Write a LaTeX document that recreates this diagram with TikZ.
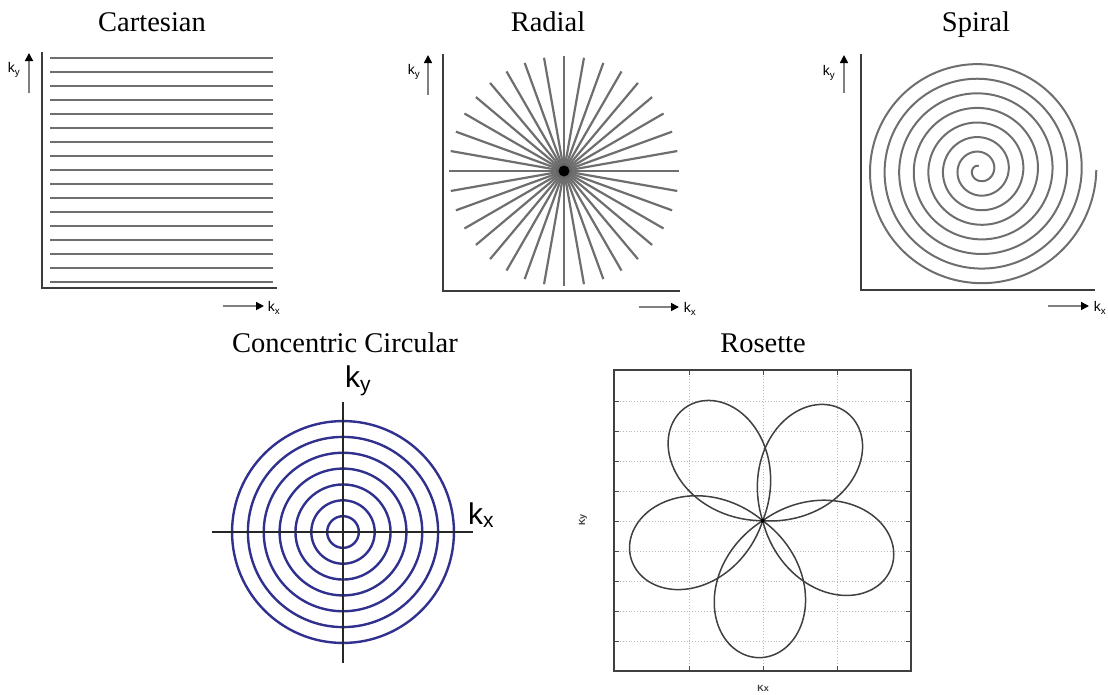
\documentclass[tikz,border=0pt]{standalone}
\usepackage{fontspec}
\setmainfont{Liberation Serif}
\setsansfont{Liberation Sans}
\usetikzlibrary{arrows.meta}
\definecolor{trajgray}{HTML}{6E6E6E}
\definecolor{axisgray}{HTML}{3C3C3C}
\definecolor{ringblue}{HTML}{30308E}

\begin{document}
\begin{tikzpicture}[x=1pt, y=-1pt,
	traj/.style={trajgray, line width=2.2pt},
	axis/.style={axisgray, line width=2.4pt},
	kdir/.style={gray, line width=1.6pt, -{Triangle[length=8pt, width=8pt, color=black]}},
	klabel/.style={font=\sffamily\fontsize{14}{16}\selectfont, inner sep=0pt},
	title/.style={font=\fontsize{28.5}{34}\selectfont, anchor=base, inner sep=0pt}]
	\useasboundingbox (0,0) rectangle (1108,694);

	% Cartesian
	\node[title] (cartTitle) at (152,31) {Cartesian};
	\foreach \i in {0,...,16}
		\draw[traj] (50,{57.7+14.02*\i}) -- (273,{57.7+14.02*\i});
	\draw[axis] (42,52) -- (42,288) -- (277,288);
	\coordinate (cartKyA) at (29,93);
	\coordinate (cartKyB) at (29,53);
	\coordinate (cartKxA) at (223,306);
	\coordinate (cartKxB) at (264,306);
	\draw[kdir] (cartKyA) -- (cartKyB);
	\draw[kdir] (cartKxA) -- (cartKxB);
	\node[klabel] (cartKy) at (14,70) {k\textsubscript{y}};
	\node[klabel] (cartKx) at (274,308) {k\textsubscript{x}};

	% Radial
	\node[title] (radTitle) at (548,31) {Radial};
	\foreach \a in {0,10,...,170}
		\draw[traj] ({564+115*cos(\a)},{171-115*sin(\a)}) -- ({564-115*cos(\a)},{171+115*sin(\a)});
	\fill[black!60] (564,171) circle (8);
	\fill[black] (564,171) circle (5.5);
	\draw[axis] (443,54) -- (443,291) -- (680,291);
	\coordinate (radKyA) at (428,95);
	\coordinate (radKyB) at (428,55);
	\coordinate (radKxA) at (639,307);
	\coordinate (radKxB) at (679,307);
	\draw[kdir] (radKyA) -- (radKyB);
	\draw[kdir] (radKxA) -- (radKxB);
	\node[klabel] (radKy) at (414,72) {k\textsubscript{y}};
	\node[klabel] (radKx) at (690,309) {k\textsubscript{x}};

	% Spiral
	\node[title] (spiTitle) at (976,31) {Spiral};
	\draw[traj, line width=2pt] plot[domain=100:2880, samples=600, smooth]
		({979.5+0.040556*\x*cos(\x)}, {170-0.040556*\x*sin(\x)});
	\draw[axis] (861,54) -- (861,290) -- (1095,290);
	\coordinate (spiKyA) at (844,93);
	\coordinate (spiKyB) at (844,55);
	\coordinate (spiKxA) at (1048,306);
	\coordinate (spiKxB) at (1089,306);
	\draw[kdir] (spiKyA) -- (spiKyB);
	\draw[kdir] (spiKxA) -- (spiKxB);
	\node[klabel] (spiKy) at (829,73) {k\textsubscript{y}};
	\node[klabel] (spiKx) at (1100,308) {k\textsubscript{x}};

	% Concentric circular
	\node[title] (ccTitle) at (345,352) {Concentric Circular};
	\foreach \r in {1,...,7}
		\draw[ringblue, line width=2.4pt] (343,532) circle[radius={15.85*\r}];
	\draw[black!85, line width=2pt] (212,532) -- (473,532);
	\draw[black!85, line width=2pt] (343,402) -- (343,663);
	\node[font=\sffamily\fontsize{30}{34}\selectfont, inner sep=0pt] (ccKy) at (358,381) {k\textsubscript{y}};
	\node[font=\sffamily\fontsize{30}{34}\selectfont, inner sep=0pt] (ccKx) at (481,515) {k\textsubscript{x}};

	% Rosette
	\node[title] (rosTitle) at (763,352) {Rosette};
	\foreach \gx in {689,763,837} {
		\draw[gray!55, dotted, line width=0.9pt] (\gx,370) -- (\gx,671);
		\draw[black!70, line width=1pt] (\gx,370) -- (\gx,375) (\gx,671) -- (\gx,666);
	}
	\foreach \gy in {401.7,431.7,461.7,491.7,521.7,551.7,581.7,611.7,641.7} {
		\draw[gray!55, dotted, line width=0.9pt] (614,\gy) -- (911,\gy);
		\draw[black!70, line width=1pt] (614,\gy) -- (619,\gy) (911,\gy) -- (906,\gy);
	}
	\draw[black!75, line width=1.5pt] (614,370) rectangle (911,671);
	\foreach \c in {268,340,52,124,196}
		\draw[black!75, line width=1.5pt] plot[domain=0:180, samples=90, smooth]
			({762.7+137*sin(\x)*cos(\c-56+0.62222*\x)}, {520.7-137*sin(\x)*sin(\c-56+0.62222*\x)});
	\fill[black] (762.7,520.7) circle (2);
	\node[font=\sffamily\bfseries\fontsize{9}{10}\selectfont, black!75, inner sep=0pt] (rosKx) at (763,688) {Kx};
	\node[font=\sffamily\bfseries\fontsize{9}{10}\selectfont, black!75, inner sep=0pt, rotate=90] (rosKy) at (583,520) {Ky};
\end{tikzpicture}
\end{document}
